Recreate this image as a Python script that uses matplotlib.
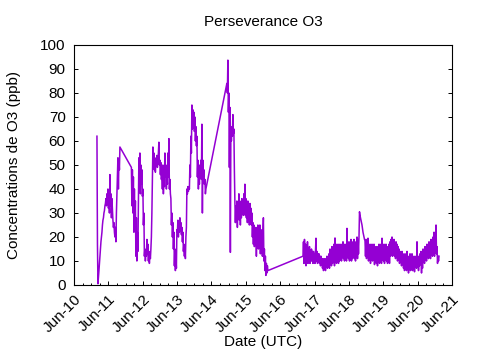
import numpy as np
import pandas as pd
import matplotlib
matplotlib.use("Agg")
import matplotlib.pyplot as plt
import matplotlib.dates as mdates

seg1_start, seg1_end = "2011-01-31", "2011-10-02"
seg1_o3 = [62, 17, 0.5, 3, 6, 9, 12, 15, 18, 20, 22, 25, 27, 28, 30, 31, 33, 34,
           36, 33, 38, 34, 40, 32, 37, 30, 46, 33, 38, 28, 36, 31, 27, 24, 26, 22,
           20, 24, 18, 30, 38, 45, 53, 40, 52, 48, 57.5]

seg2_start, seg2_end = "2012-02-01", "2014-04-03"
seg2_o3 = [49, 33, 48, 30, 45, 22, 40, 25, 35, 12, 28, 10, 22, 14, 35, 53, 40, 55,
           38, 50, 42, 48, 37, 40, 25, 30, 12, 15, 10, 14, 12, 19, 13, 17, 10, 14,
           9, 13, 11, 15, 20, 30, 45, 57.5,
           50, 55, 48, 53, 47, 52, 50, 54, 49, 52, 55, 59.5, 50, 52, 46, 51, 44, 47,
           40, 50, 38, 44, 41, 55, 45, 50, 40, 47, 42, 55, 45, 61, 40, 44, 38, 36,
           25, 30, 20, 26, 15, 22, 8, 15, 6, 12, 7, 23, 22, 27, 20, 26, 22, 28,
           23, 26, 21, 24, 18, 22, 14, 17, 12, 16, 11, 20, 24, 40, 38, 41, 39, 41,
           40, 50, 45, 62, 55, 75, 65, 73, 67, 72, 64, 70, 60, 66, 58, 62, 45, 52,
           40, 47, 42, 50, 45, 52, 44, 67, 30, 52, 45, 48, 42, 44, 38, 40]

seg3_start, seg3_end = "2014-11-12", "2016-01-22"
seg3_o3 = [84, 80, 93.7, 72, 80, 49, 74, 13.6, 66, 60, 64, 62, 71, 63, 65, 48,
           35, 26, 33, 28, 35, 24, 34, 29, 38, 27, 35, 25, 33, 28, 36, 30, 35, 29,
           38, 30, 42, 29, 36, 28, 34, 26, 35, 27, 33, 25, 34, 26, 32, 25, 30, 20,
           26, 17, 25, 16, 22, 18, 24, 12, 22, 17, 25, 15, 24, 18, 25, 13, 22, 17,
           23, 12, 21, 28, 10, 15, 6, 12, 4, 9, 5, 8, 6]

seg4_start, seg4_end = "2017-01-29", "2021-01-14"
seg4_o3 = [12, 18, 9, 19, 10, 17, 8, 16, 10, 18, 9, 15, 11, 16, 9, 14, 10, 15,
           10, 14, 9, 14, 10, 13, 9, 14, 19.5, 10, 14, 9, 13, 10, 13, 9, 12, 8,
           12, 9, 11, 7, 11, 6, 10, 7, 11, 6, 10, 8, 12, 7, 11, 8, 13, 7, 15, 9,
           14, 8, 16, 9, 15, 10, 17, 8, 19.6, 10, 16, 9, 17, 11, 15, 9, 17, 10,
           16, 11, 17, 10, 16, 12, 18, 11, 16, 10, 17, 12, 16, 10, 23.6, 12, 17, 11,
           18, 10, 16, 12, 19, 10, 17, 11, 18, 12, 19, 11, 17, 10, 18, 12, 20, 11,
           19, 13, 20, 30.5, 29, 28, 27, 26, 25, 23.5, 22, 21, 20, 19, 18.5,
           12, 19, 11, 17, 13, 19.5, 10, 16, 12, 17, 9, 16, 11, 17, 10, 15, 11, 17,
           8.5, 15, 10, 16, 9, 15, 8, 16, 10, 17, 9, 15, 10, 17, 9, 19.5, 11, 16,
           10, 17, 9, 15, 11, 17, 10, 16, 9, 15, 11, 17, 9, 18, 12, 19, 13, 20,
           12, 18, 13, 19, 12, 17, 11, 18, 12, 17, 10, 16, 11, 15, 9, 14, 10, 13,
           8, 14, 9, 13, 7, 12, 6, 13, 8, 12, 6, 14, 7, 12, 5, 11, 7, 13, 6, 12,
           7, 13, 6, 11, 7, 12, 5.5, 11, 8, 12, 7, 18, 8, 12, 6, 11, 8, 13, 9, 14,
           5, 13, 7, 15, 10, 14, 9, 16, 11, 15, 10, 17, 12, 15, 11, 18, 12, 17,
           11, 19, 13, 18, 12, 20, 13, 22, 12, 19, 14, 25, 13, 16, 9, 12, 10, 12]

runs = [(seg1_start, seg1_end, seg1_o3), (seg2_start, seg2_end, seg2_o3),
        (seg3_start, seg3_end, seg3_o3), (seg4_start, seg4_end, seg4_o3)]

dates = []
o3 = []
for start, end, vals in runs:
    dates.extend(pd.date_range(start, end, periods=len(vals)))
    o3.extend(vals)

plt.rcParams['font.family'] = ['Liberation Sans', 'DejaVu Sans']
plt.rcParams['font.size'] = 11

fig = plt.figure(figsize=(4.8, 3.6), dpi=100)
ax = fig.add_axes([74/480, 75/360, 378/480, 240/360])

ax.plot(dates, o3, color='#9400d3', linewidth=1.1)

ax.set_xlim(pd.Timestamp("2010-06-01"), pd.Timestamp("2021-06-01"))
ax.set_ylim(0, 100)
ax.set_yticks(np.arange(0, 101, 10))
ax.xaxis.set_major_locator(mdates.MonthLocator(bymonth=6, bymonthday=1))
ax.xaxis.set_minor_locator(mdates.MonthLocator(bymonth=[3, 9, 12], bymonthday=1))
ax.xaxis.set_major_formatter(mdates.DateFormatter('%b-%y'))
for lbl in ax.get_xticklabels():
    lbl.set_rotation(45)
    lbl.set_ha('right')
    lbl.set_rotation_mode('anchor')

ax.tick_params(axis='x', which='major', direction='in', length=3, width=0.7, top=False, pad=5)
ax.tick_params(axis='x', which='minor', direction='in', length=1.5, width=0.7, top=False)
ax.tick_params(axis='y', which='major', direction='in', length=3, width=0.7, right=True, pad=6)
for s in ax.spines.values():
    s.set_linewidth(0.8)

ax.set_title('Perseverance O3', fontsize=11, pad=14)
ax.set_xlabel('Date (UTC)', labelpad=0)
ax.set_ylabel('Concentrations de O3 (ppb)', labelpad=14)

fig.savefig('out.png', dpi=100)
